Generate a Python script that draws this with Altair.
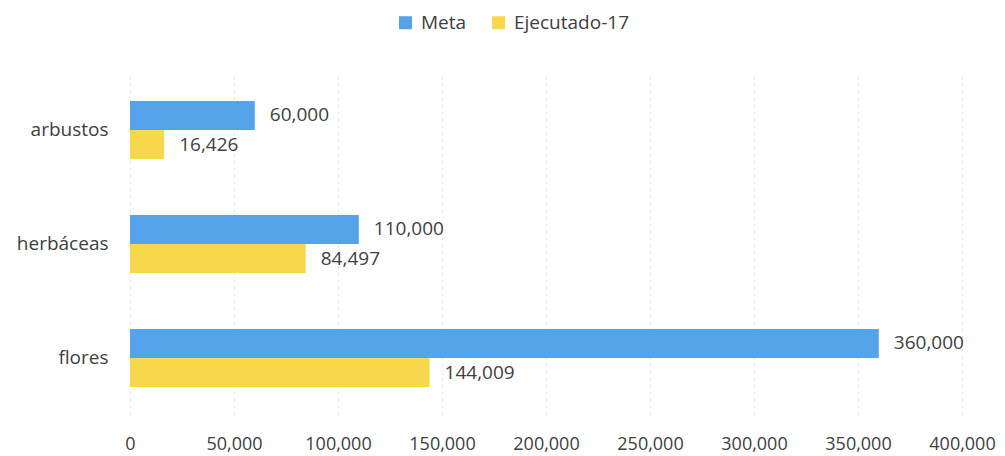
import altair as alt
import pandas as pd

categories = ["arbustos", "herbáceas", "flores"]
series = ["Meta", "Ejecutado-17"]
meta = [60000, 110000, 360000]
ejecutado = [16426, 84497, 144009]
x_ticks = [0, 50000, 100000, 150000, 200000, 250000, 300000, 350000, 400000]
colors = ["#55a3e8", "#f7d84c"]

rows = []
for c, m, e in zip(categories, meta, ejecutado):
    rows.append({"categoria": c, "serie": series[0], "valor": m})
    rows.append({"categoria": c, "serie": series[1], "valor": e})
df = pd.DataFrame(rows)

FONT = "Open Sans"
TXT = "#404040"

base = alt.Chart(df).encode(
    y=alt.Y(
        "categoria:N",
        sort=categories,
        scale=alt.Scale(paddingInner=0.49, paddingOuter=0.245),
        axis=alt.Axis(title=None, ticks=False, domain=False, labelFontSize=19,
                      labelColor=TXT, labelPadding=22, labelFont=FONT),
    ),
    yOffset=alt.YOffset("serie:N", sort=series,
                        scale=alt.Scale(paddingInner=0, paddingOuter=0)),
    x=alt.X(
        "valor:Q",
        scale=alt.Scale(domain=[0, 400000], nice=False),
        axis=alt.Axis(values=x_ticks, format=",d", grid=True, gridDash=[3, 4],
                      gridColor="#e6e6e6", domain=False, ticks=False,
                      labelPadding=20, title=None, labelFontSize=18,
                      labelColor=TXT, labelFont=FONT, labelOverlap=False,
                      labelFlush=False),
    ),
)

bars = base.mark_bar().encode(
    color=alt.Color(
        "serie:N",
        sort=series,
        scale=alt.Scale(domain=series, range=colors),
        legend=alt.Legend(
            title=None, orient="none", direction="horizontal",
            legendX=266, legendY=-60, symbolType="square", symbolSize=169,
            symbolStrokeWidth=0, labelFontSize=19, labelFont=FONT,
            labelColor=TXT, labelOffset=6, columnPadding=22,
        ),
    )
)

labels = base.mark_text(align="left", baseline="middle", dx=15,
                        fontSize=19, font=FONT, color=TXT).encode(
    text=alt.Text("valor:Q", format=",")
)

chart = (bars + labels).properties(
    width=832, height=342,
    autosize=alt.AutoSizeParams(type="none"),
    padding={"left": 122, "top": 65, "right": 35, "bottom": 40},
).configure_view(stroke=None)

chart.save("out.html", embed_options={"renderer": "svg", "actions": False})
